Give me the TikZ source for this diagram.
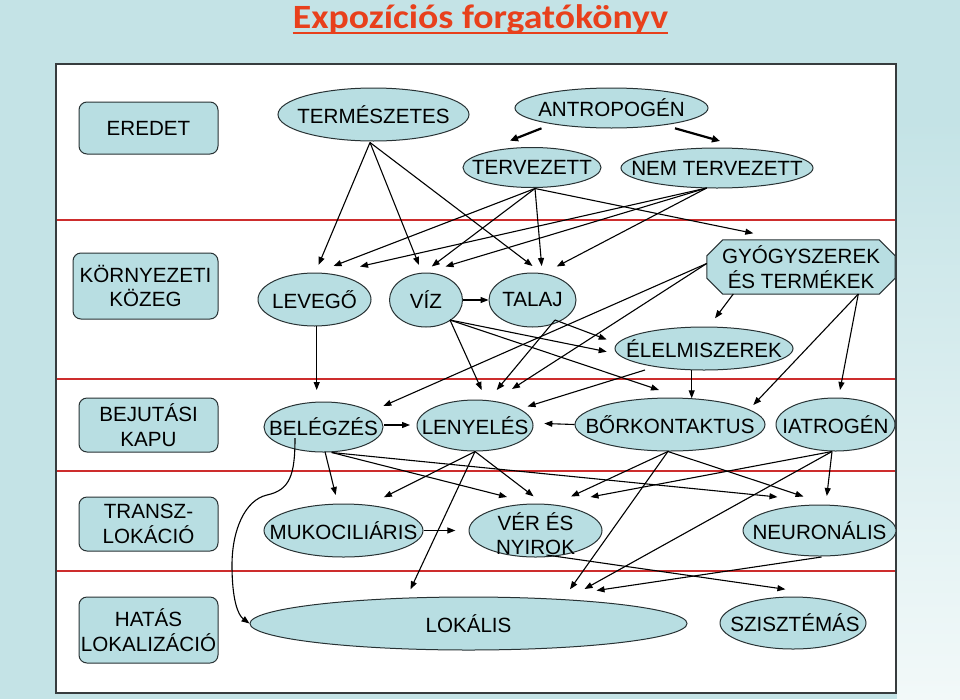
\documentclass[tikz,border=0pt]{standalone}
\usepackage{fontspec}
\setmainfont{Liberation Sans}
\newfontfamily\titlefont{Carlito}
\usetikzlibrary{arrows.meta,calc,shapes.geometric}
\definecolor{bg}{RGB}{196,227,230}
\definecolor{bgl}{RGB}{242,249,249}
\definecolor{nodefill}{RGB}{184,222,226}
\definecolor{edgec}{RGB}{40,50,52}
\definecolor{frame}{RGB}{55,60,62}
\definecolor{sepc}{RGB}{205,45,45}
\definecolor{titlec}{RGB}{232,64,28}
\tikzset{
  lab/.style={font=\fontsize{20.6}{24.5}\selectfont, align=center, inner sep=0pt, text=black},
  ell/.style={ellipse, draw=edgec, fill=nodefill, line width=1pt, inner sep=0pt},
  sidebox/.style={draw=edgec, fill=nodefill, line width=1pt, rounded corners=8pt, lab},
  arr/.style={line width=1.1pt, -{Triangle[length=8pt,width=6pt]}},
  thickarr/.style={line width=2.2pt, -{Triangle[length=8pt,width=7pt]}},
  sepline/.style={draw=sepc, line width=1.2pt},
}
\begin{document}
\begin{tikzpicture}[x=1pt,y=-1pt]
\useasboundingbox (0,0) rectangle (960,699);
\fill[bg] (0,0) rectangle (960,699);
\shade[top color=bg, bottom color=bgl] (897,120) rectangle (960,699);
\fill[white] (56,64) rectangle (896,693);
% title
\node[font=\titlefont\bfseries\fontsize{34}{40}\selectfont, text=titlec, inner sep=0pt, anchor=base] (title) at (480.5,28.5) {\scalebox{1.11}[1]{Expozíciós forgatókönyv}};
\draw[titlec, line width=1.8pt] ($(title.base west)+(0,4.5)$) -- ($(title.base east)+(0,4.5)$);
% separators
\draw[sepline] (56,220) -- (896,220);
\draw[sepline] (56,379) -- (896,379);
\draw[sepline] (56,471) -- (896,471);
\draw[sepline] (56,571) -- (896,571);
\draw[frame, line width=1.6pt] (56,64) rectangle (896,693);
% side boxes
\node[sidebox, minimum width=139pt, minimum height=52pt] (eredet) at (148.5,128) {EREDET};
\node[sidebox, minimum width=145pt, minimum height=66pt] (kozeg) at (145.5,286) {KÖRNYEZETI\\KÖZEG};
\node[sidebox, minimum width=139pt, minimum height=54pt] (kapu) at (148.5,425) {BEJUTÁSI\\KAPU};
\node[sidebox, minimum width=139pt, minimum height=54pt] (transz) at (148.5,524) {TRANSZ-\\LOKÁCIÓ};
\node[sidebox, minimum width=139pt, minimum height=66pt] (hatas) at (148.5,630) {HATÁS\\LOKALIZÁCIÓ};
% ellipses
\node[ell, minimum width=191pt, minimum height=53pt] (term) at (373.5,114.5) {};
\node[lab] at (term) {TERMÉSZETES};
\node[ell, minimum width=193pt, minimum height=40pt] (antro) at (611.5,108) {};
\node[lab] at (antro) {ANTROPOGÉN};
\node[ell, minimum width=138pt, minimum height=40pt] (terv) at (532,167.5) {};
\node[lab] at (terv) {TERVEZETT};
\node[ell, minimum width=192pt, minimum height=40pt] (nemterv) at (717,168) {};
\node[lab] at (nemterv) {NEM TERVEZETT};
\node[ell, minimum width=113pt, minimum height=53pt] (levego) at (314.5,299.5) {};
\node[lab] at (levego) {LEVEGŐ};
\node[ell, minimum width=73pt, minimum height=54pt] (viz) at (426,300) {};
\node[lab] at (viz) {VÍZ};
\node[ell, minimum width=87pt, minimum height=54pt] (talaj) at (532.5,300) {};
\node[lab] at (talaj) {TALAJ};
\node[minimum width=188pt, minimum height=54pt, inner sep=0pt] (gyogy) at (801,267) {};
\draw[draw=edgec, fill=nodefill, line width=1pt]
  ($(gyogy.north west)+(16,0)$) -- ($(gyogy.north east)+(-16,0)$) -- ($(gyogy.north east)+(0,16)$)
  -- ($(gyogy.south east)+(0,-16)$) -- ($(gyogy.south east)+(-16,0)$) -- ($(gyogy.south west)+(16,0)$)
  -- ($(gyogy.south west)+(0,-16)$) -- ($(gyogy.north west)+(0,16)$) -- cycle;
\node[lab] at (gyogy) {GYÓGYSZEREK\\ÉS TERMÉKEK};
\node[ell, minimum width=178pt, minimum height=43pt] (elel) at (704,348.5) {};
\node[lab] at (elel) {ÉLELMISZEREK};
\node[ell, minimum width=119pt, minimum height=50pt] (bel) at (323.5,427) {};
\node[lab] at (bel) {BELÉGZÉS};
\node[ell, minimum width=116pt, minimum height=51pt] (leny) at (475,425.5) {};
\node[lab] at (leny) {LENYELÉS};
\node[ell, minimum width=190pt, minimum height=53pt] (bor) at (670,424.5) {};
\node[lab] at (bor) {BŐRKONTAKTUS};
\node[ell, minimum width=119pt, minimum height=53pt] (iatro) at (835.5,424.5) {};
\node[lab] at (iatro) {IATROGÉN};
\node[ell, minimum width=159pt, minimum height=53pt] (muko) at (343.5,530.5) {};
\node[lab] at (muko) {MUKOCILIÁRIS};
\node[ell, minimum width=133pt, minimum height=53pt] (ver) at (535.5,530.5) {};
\node[lab] at ($(ver)+(0,3)$) {VÉR ÉS\\NYIROK};
\node[ell, minimum width=153pt, minimum height=51pt] (neuro) at (819.5,530.5) {};
\node[lab] at (neuro) {NEURONÁLIS};
\node[ell, minimum width=437pt, minimum height=53pt] (lok) at (468.5,623.5) {};
\node[lab] at (lok) {LOKÁLIS};
\node[ell, minimum width=146pt, minimum height=52pt] (sziszt) at (793,623) {};
\node[lab] at ($(sziszt)+(2,0)$) {SZISZTÉMÁS};
% connectors
\draw[thickarr] ($(antro)+(-70,20.3)$) -- ($(terv)+(-22,-26.8)$);
\draw[thickarr] ($(antro)+(63.5,20.3)$) -- ($(nemterv)+(3,-27)$);
\draw[arr] ($(term)+(-3.5,28)$) -- ($(levego)+(4,-34.5)$);
\draw[arr] ($(term)+(-3.5,28)$) -- ($(viz)+(-7,-35)$);
\draw[arr] ($(term)+(-3.5,28)$) -- ($(talaj)+(0,-34)$);
\draw[arr] ($(terv)+(3,21)$) -- ($(levego)+(19,-33.5)$);
\draw[arr] ($(terv)+(3,21)$) -- ($(viz)+(5.7,-33.5)$);
\draw[arr] ($(terv)+(3,21)$) -- ($(talaj)+(9.2,-34)$);
\draw[arr] ($(terv)+(3,21)$) -- ($(gyogy)+(-47.7,-33.7)$);
\draw[arr] ($(nemterv)+(-10.3,20)$) -- ($(levego)+(45.5,-33)$);
\draw[arr] ($(nemterv)+(-10.3,20)$) -- ($(viz)+(19.5,-33.5)$);
\draw[arr] ($(nemterv)+(-10.3,20)$) -- ($(talaj)+(24.2,-33.5)$);
\draw[arr] (viz.east) -- (talaj.west);
\draw[arr] ($(viz)+(24,20)$) -- ($(leny)+(6.7,-35.5)$);
\draw[arr] ($(viz)+(24,20)$) -- ($(elel)+(-97.3,3.2)$);
\draw[arr] ($(viz)+(24,20)$) -- ($(bor)+(-11,-34.5)$);
\draw[arr] ($(talaj)+(22.5,20)$) -- ($(elel)+(-97.3,-9)$);
\draw[arr] ($(talaj)+(22.5,20)$) -- ($(leny)+(21.7,-35.5)$);
\draw[arr] ($(gyogy)+(-94.3,-3.5)$) -- ($(bel)+(59.8,-21)$);
\draw[arr] ($(gyogy)+(-94.3,-3.5)$) -- ($(leny)+(37,-36.5)$);
\draw[arr] ($(gyogy)+(-67.7,27)$) -- ($(elel)+(11,-30.2)$);
\draw[arr] ($(gyogy)+(57.3,27)$) -- ($(iatro)+(4.5,-34.5)$);
\draw[arr] ($(gyogy)+(57.3,27)$) -- ($(bor)+(83.3,-19.5)$);
\draw[arr] ($(elel)+(-12.3,21.5)$) -- ($(bor)+(21.7,-26.2)$);
\draw[arr] ($(elel)+(-59,21.5)$) -- ($(leny)+(52.5,-19)$);
\draw[arr] ($(levego)+(2.2,26.5)$) -- ($(bel)+(-6.8,-37)$);
\draw[arr] ($(bel)+(60.5,-2)$) -- ($(leny)+(-65,-0.5)$);
\draw[arr] (bor.west) -- ($(leny)+(69.3,-2)$);
\draw[arr] ($(bel)+(1.5,24.7)$) -- ($(muko)+(-7.8,-35.5)$);
\draw[arr] ($(bel)+(8.2,25.5)$) -- ($(ver)+(-28.5,-33.5)$);
\draw[arr] ($(bel)+(8.2,25.5)$) -- ($(neuro)+(-42,-33.5)$);
\draw[arr] ($(leny)+(0,26)$) -- ($(muko)+(40.4,-33.2)$);
\draw[arr] ($(leny)+(0,26)$) -- ($(ver)+(-1.9,-34.2)$);
\draw[arr] ($(leny)+(0,26)$) -- ($(lok)+(-58,-34.2)$);
\draw[arr] ($(bor)+(-2.1,27)$) -- ($(ver)+(35.5,-34)$);
\draw[arr] ($(bor)+(-2.1,27)$) -- ($(neuro)+(-16,-34)$);
\draw[arr] ($(bor)+(-2.1,27)$) -- ($(lok)+(101.5,-34.2)$);
\draw[arr] ($(iatro)+(-3.5,27)$) -- ($(ver)+(55,-33.5)$);
\draw[arr] ($(iatro)+(-3.5,27)$) -- ($(neuro)+(7.3,-34.5)$);
\draw[arr] ($(iatro)+(-3.5,27)$) -- ($(lok)+(116,-34.5)$);
\draw[arr] (muko.east) -- ($(ver)+(-80.1,0)$);
\draw[arr] ($(ver)+(11,24.5)$) -- ($(sziszt)+(-7.6,-33.7)$);
\draw[arr] ($(neuro)+(2,26.5)$) -- ($(lok)+(128,-33)$);
\draw[arr] ($(bel)+(-28.5,11)$) .. controls (295,475) and (290,490) .. (267,495)
  .. controls (245,500) and (232,530) .. (232,565)
  .. controls (232,600) and (238,615) .. (lok.west);
\end{tikzpicture}
\end{document}
